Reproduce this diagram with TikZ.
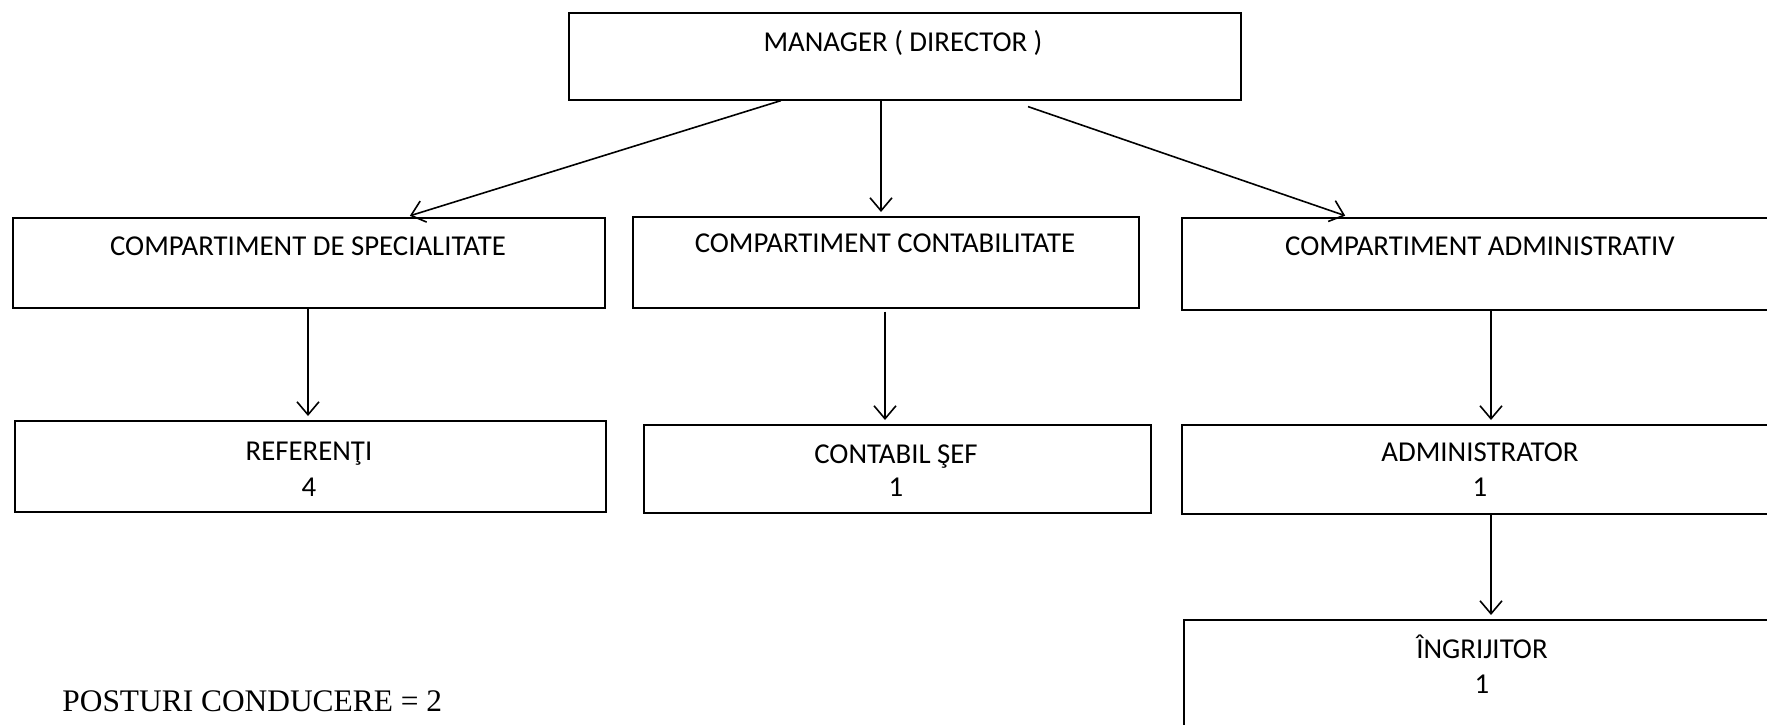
\documentclass[tikz,border=0pt]{standalone}
\usepackage{fontspec}
\setmainfont{Carlito}
\newfontfamily\tnr{Liberation Serif}
\usetikzlibrary{arrows.meta}
\tikzset{
  box/.style={draw, line width=0.8pt, inner sep=0pt, anchor=north west},
  lbl/.style={anchor=base, inner sep=0pt, font=\fontsize{14.4}{16}\selectfont},
  conn/.style={line width=0.8pt, -{Straight Barb[length=6.5pt,width=11pt,line width=0.8pt]}, shorten >=2pt}
}
\begin{document}
\begin{tikzpicture}[x=0.5pt,y=-0.5pt]
\useasboundingbox (0,0) rectangle (1767,724);
\clip (0,0) rectangle (1767,724);
% boxes
\node[box, minimum width=336pt, minimum height=43.5pt] (mgr) at (568,12) {};
\node[box, minimum width=296pt, minimum height=45pt] (spec) at (12,217) {};
\node[box, minimum width=253pt, minimum height=45.5pt] (cont) at (632,216) {};
\node[box, minimum width=310pt, minimum height=46pt] (adm) at (1181,217) {};
\node[box, minimum width=295.5pt, minimum height=45.5pt] (ref) at (14,420) {};
\node[box, minimum width=253.5pt, minimum height=44pt] (csef) at (643,424) {};
\node[box, minimum width=310pt, minimum height=44.5pt] (admr) at (1181,424) {};
\node[box, minimum width=310pt, minimum height=75pt] (ingr) at (1183,619) {};
% texts
\node[lbl] (tmgr) at (903,51) {MANAGER ( DIRECTOR )};
\node[lbl] (tspec) at (308,255) {COMPARTIMENT DE SPECIALITATE};
\node[lbl] (tcont) at (885,252) {COMPARTIMENT CONTABILITATE};
\node[lbl] (tadm) at (1480,255) {COMPARTIMENT ADMINISTRATIV};
\node[lbl] (tref) at (309,460) {REFERENŢI};
\node[lbl] (tref2) at (309,496) {4};
\node[lbl] (tcsef) at (896,463) {CONTABIL ŞEF};
\node[lbl] (tcsef2) at (896,496) {1};
\node[lbl] (tadmr) at (1480,461) {ADMINISTRATOR};
\node[lbl] (tadmr2) at (1480,496) {1};
\node[lbl] (tingr) at (1482,658) {ÎNGRIJITOR};
\node[lbl] (tingr2) at (1482,693) {1};
\node[anchor=base west, inner sep=0pt, font=\tnr\fontsize{15.7}{18}\selectfont] (post) at (62,711) {POSTURI CONDUCERE = 2};
% connectors
\draw[conn] ([xshift=106.5pt]mgr.south west) -- ([xshift=197pt]spec.north west);
\draw[conn] ([xshift=156.5pt]mgr.south west) -- ([xshift=124.5pt]cont.north west);
\draw[conn] ([xshift=230pt,yshift=-3pt]mgr.south west) -- ([xshift=84pt]adm.north west);
\draw[conn] ([xshift=148pt]spec.south west) -- ([xshift=147pt]ref.north west);
\draw[conn] ([xshift=126.5pt,yshift=-1.5pt]cont.south west) -- ([xshift=121pt]csef.north west);
\draw[conn] ([xshift=155pt]adm.south west) -- ([xshift=155pt]admr.north west);
\draw[conn] ([xshift=155pt]admr.south west) -- ([xshift=154pt]ingr.north west);
\end{tikzpicture}
\end{document}
